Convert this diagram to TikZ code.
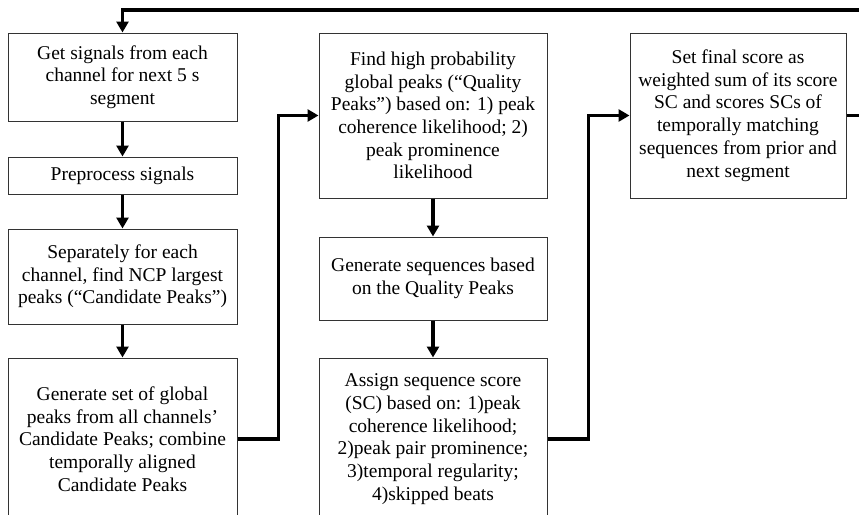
\documentclass[tikz,border=0pt]{standalone}
\usepackage{fontspec}
\setmainfont{Liberation Serif}
\usetikzlibrary{arrows.meta}

\begin{document}
\begin{tikzpicture}[x=1pt,y=-1pt,
    box/.style={draw=black!80,line width=1pt,align=center,inner sep=2pt,
      font=\fontsize{19.5}{22.7}\selectfont},
    flow/.style={line width=3.5pt,-{Triangle[length=11pt,width=12pt]}}]
      \clip (0,0) rectangle (859,514);
      % left column
      \node[box,minimum width=229pt,minimum height=88pt] (get) at (122.5,77) {Get signals from each\\channel for next 5 s\\segment};
      \node[box,minimum width=229pt,minimum height=37pt] (prep) at (122.5,175.5) {Preprocess signals};
      \node[box,minimum width=229pt,minimum height=95pt] (cand) at (122.5,276.5) {Separately for each\\channel, find NCP largest\\peaks (“Candidate Peaks”)};
      \node[box,minimum width=229pt,minimum height=162pt] (glob) at (122.5,439) {Generate set of global\\peaks from all channels’\\Candidate Peaks; combine\\temporally aligned\\Candidate Peaks};
      % middle column
      \node[box,minimum width=228pt,minimum height=165pt] (qual) at (433,115.5) {Find high probability\\global peaks (“Quality\\Peaks”) based on: 1) peak\\coherence likelihood; 2)\\peak prominence\\likelihood};
      \node[box,minimum width=228pt,minimum height=83pt] (seq) at (433,278.5) {Generate sequences based\\on the Quality Peaks};
      \node[box,minimum width=228pt,minimum height=162pt] (score) at (433,439) {Assign sequence score\\(SC) based on: 1)peak\\coherence likelihood;\\2)peak pair prominence;\\3)temporal regularity;\\4)skipped beats};
      % right column
      \node[box,minimum width=216pt,minimum height=165pt] (final) at (738,115.5) {Set final score as\\weighted sum of its score\\SC and scores SCs of\\temporally matching\\sequences from prior and\\next segment};
      \coordinate (loop) at (122.5,10);
      \draw[flow] (get) -- (prep);
      \draw[flow] (prep) -- (cand);
      \draw[flow] (cand) -- (glob);
      \draw[flow] (glob.east) -- ++(41,0) |- (qual.west);
      \draw[flow] (qual) -- (seq);
      \draw[flow] (seq) -- (score);
      \draw[flow] (score.east) -- ++(41,0) |- (final.west);
      \draw[flow] (final.east) -- ++(20,0) |- (loop) -- (get.north);
    \end{tikzpicture}
\end{document}
